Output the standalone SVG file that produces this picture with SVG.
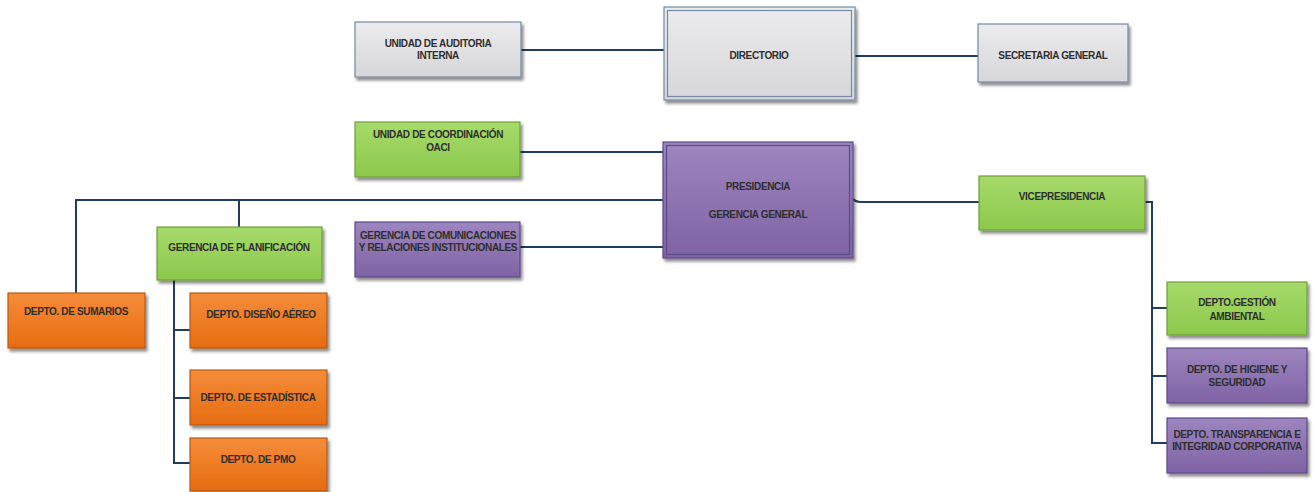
<svg xmlns="http://www.w3.org/2000/svg" width="1314" height="492" viewBox="0 0 1314 492">
  <style>
    .box { stroke-width: 1.2; filter: url(#shadow); }
    .gray { fill: url(#gGray); stroke: #7688a2; }
    .green { fill: url(#gGreen); stroke: #6f9e3c; }
    .orange { fill: url(#gOrange); stroke: #b85a12; }
    .purple { fill: url(#gPurple); stroke: #5a4a86; }
    .inner { fill: none; stroke-width: 1.2; }
    .lbl { font-family: "Liberation Sans", Arial, sans-serif; font-weight: bold; font-size: 10px; letter-spacing: -0.35px; fill: #2e2e2e; text-anchor: middle; }
    .wire { fill: none; stroke: #1f3d5e; stroke-width: 2; }
  </style>
  <defs>
    <linearGradient id="gGray" x1="0" y1="0" x2="0" y2="1">
      <stop offset="0" stop-color="#ececee"/>
      <stop offset="1" stop-color="#d6d6da"/>
    </linearGradient>
    <linearGradient id="gGreen" x1="0" y1="0" x2="0" y2="1">
      <stop offset="0" stop-color="#a6da6a"/>
      <stop offset="1" stop-color="#8cc84c"/>
    </linearGradient>
    <linearGradient id="gOrange" x1="0" y1="0" x2="0" y2="1">
      <stop offset="0" stop-color="#f58c3a"/>
      <stop offset="1" stop-color="#e66c10"/>
    </linearGradient>
    <linearGradient id="gPurple" x1="0" y1="0" x2="0" y2="1">
      <stop offset="0" stop-color="#9d85bf"/>
      <stop offset="1" stop-color="#7f63a5"/>
    </linearGradient>
    <filter id="shadow" x="-10%" y="-10%" width="125%" height="130%">
      <feDropShadow dx="2" dy="3" stdDeviation="1.5" flood-color="#000" flood-opacity="0.45"/>
    </filter>
  </defs>

  <g id="connectors">
    <path class="wire" d="M521 50 H664"/>
    <path class="wire" d="M855 56 H978"/>
    <path class="wire" d="M520 152 H663"/>
    <path class="wire" d="M76 293 V200 H663"/>
    <path class="wire" d="M239 200 V227"/>
    <path class="wire" d="M520 247 H663"/>
    <path class="wire" d="M853 199 Q856 202 860 202 H979"/>
    <path class="wire" d="M1145 202 H1152 V443 H1167"/>
    <path class="wire" d="M1152 308 H1167"/>
    <path class="wire" d="M1152 376 H1167"/>
    <path class="wire" d="M174 280 V463 H190"/>
    <path class="wire" d="M174 330 H190"/>
    <path class="wire" d="M174 398 H190"/>
  </g>

  <g id="auditoria">
    <rect class="box gray" x="355" y="22" width="166" height="55"/>
    <text class="lbl" x="438" y="47">UNIDAD DE AUDITORIA</text>
    <text class="lbl" x="438" y="59">INTERNA</text>
  </g>

  <g id="directorio">
    <rect class="box gray" x="664" y="7" width="191" height="93"/>
    <rect class="inner" x="667.5" y="10.5" width="184" height="86" stroke="#7688a2"/>
    <text class="lbl" x="759" y="59">DIRECTORIO</text>
  </g>

  <g id="secretaria">
    <rect class="box gray" x="978" y="24" width="150" height="58"/>
    <text class="lbl" x="1053" y="59">SECRETARIA GENERAL</text>
  </g>

  <g id="oaci">
    <rect class="box green" x="355" y="122" width="165" height="55"/>
    <text class="lbl" x="438" y="138">UNIDAD DE COORDINACIÓN</text>
    <text class="lbl" x="438" y="151">OACI</text>
  </g>

  <g id="presidencia">
    <rect class="box purple" x="663" y="142" width="190" height="116"/>
    <rect class="inner" x="666.5" y="145.5" width="183" height="109" stroke="#5a4a86"/>
    <text class="lbl" x="758" y="190">PRESIDENCIA</text>
    <text class="lbl" x="758" y="218">GERENCIA GENERAL</text>
  </g>

  <g id="comunicaciones">
    <rect class="box purple" x="355" y="222" width="165" height="55"/>
    <text class="lbl" x="438" y="239">GERENCIA DE COMUNICACIONES</text>
    <text class="lbl" x="438" y="251">Y RELACIONES INSTITUCIONALES</text>
  </g>

  <g id="planificacion">
    <rect class="box green" x="157" y="227" width="165" height="53"/>
    <text class="lbl" x="239" y="251">GERENCIA DE PLANIFICACIÓN</text>
  </g>

  <g id="sumarios">
    <rect class="box orange" x="8" y="293" width="137" height="55"/>
    <text class="lbl" x="76" y="315">DEPTO. DE SUMARIOS</text>
  </g>

  <g id="diseno">
    <rect class="box orange" x="190" y="293" width="137" height="55"/>
    <text class="lbl" x="261" y="318">DEPTO. DISEÑO AÉREO</text>
  </g>

  <g id="estadistica">
    <rect class="box orange" x="190" y="370" width="137" height="55"/>
    <text class="lbl" x="258" y="401">DEPTO. DE ESTADÍSTICA</text>
  </g>

  <g id="pmo">
    <rect class="box orange" x="190" y="438" width="137" height="53"/>
    <text class="lbl" x="258" y="463">DEPTO. DE PMO</text>
  </g>

  <g id="vicepresidencia">
    <rect class="box green" x="979" y="176" width="166" height="54"/>
    <text class="lbl" x="1062" y="200">VICEPRESIDENCIA</text>
  </g>

  <g id="ambiental">
    <rect class="box green" x="1167" y="282" width="140" height="53"/>
    <text class="lbl" x="1237" y="306">DEPTO.GESTIÓN</text>
    <text class="lbl" x="1237" y="320">AMBIENTAL</text>
  </g>

  <g id="higiene">
    <rect class="box purple" x="1167" y="348" width="140" height="55"/>
    <text class="lbl" x="1237" y="373">DEPTO. DE HIGIENE Y</text>
    <text class="lbl" x="1237" y="386">SEGURIDAD</text>
  </g>

  <g id="transparencia">
    <rect class="box purple" x="1167" y="418" width="140" height="55"/>
    <text class="lbl" x="1237" y="438">DEPTO. TRANSPARENCIA E</text>
    <text class="lbl" x="1237" y="450">INTEGRIDAD CORPORATIVA</text>
  </g>
</svg>
